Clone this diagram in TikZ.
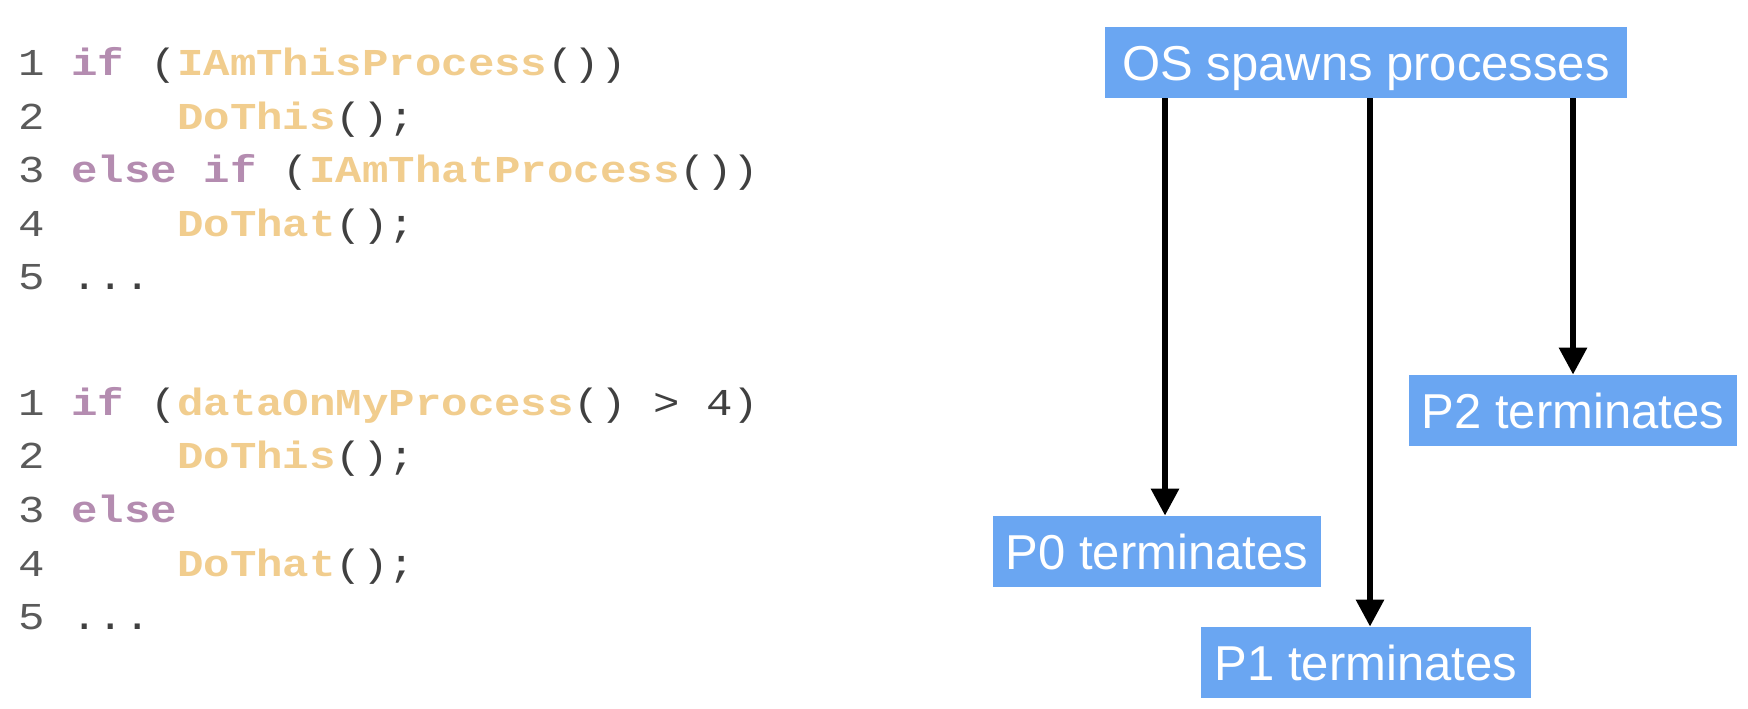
\documentclass[tikz,border=0pt]{standalone}
\usepackage{fontspec}
\setmainfont{Liberation Sans}
\newfontfamily\codefont[FakeStretch=1.16]{Liberation Mono}
\usetikzlibrary{arrows.meta}
\definecolor{kwc}{HTML}{B48CB0}
\definecolor{fnc}{HTML}{F1CD8E}
\definecolor{pnc}{HTML}{404040}
\definecolor{lnc}{HTML}{5A5A5A}
\definecolor{boxc}{HTML}{6AA6F2}
\newcommand\kw[1]{{\bfseries\color{kwc}#1}}
\newcommand\fn[1]{{\bfseries\color{fnc}#1}}
\newcommand\pn[1]{{\color{pnc}#1}}
\newcommand\lnum[1]{{\color{lnc}#1}}
\newcommand\indentfive{\ \ \ \ \ }
\begin{document}
\begin{tikzpicture}[x=0.5pt,y=-0.5pt,
  codeline/.style={anchor=base west, inner sep=0pt, font=\codefont\fontsize{19}{19}\selectfont},
  box/.style={fill=boxc, text=white, font=\fontsize{24.5}{24.5}\selectfont,
    minimum height=35.5pt, text height=17.5pt, text depth=0pt, inner sep=0pt},
  arr/.style={line width=3pt, -{Triangle[length=13.5pt,width=13.5pt]}}]
\useasboundingbox (0,0) rectangle (1748,708);

% code block 1
\node[codeline] (a1) at (18,75.5)  {\lnum{1}\ \kw{if}\ \pn{(}\fn{IAmThisProcess}\pn{())}};
\node[codeline] (a2) at (18,129)   {\lnum{2}\indentfive\fn{DoThis}\pn{();}};
\node[codeline] (a3) at (18,182.5) {\lnum{3}\ \kw{else}\ \kw{if}\ \pn{(}\fn{IAmThatProcess}\pn{())}};
\node[codeline] (a4) at (18,236)   {\lnum{4}\indentfive\fn{DoThat}\pn{();}};
\node[codeline] (a5) at (18,289.5) {\lnum{5}\ \pn{...}};

% code block 2
\node[codeline] (b1) at (18,415)   {\lnum{1}\ \kw{if}\ \pn{(}\fn{dataOnMyProcess}\pn{()\ >\ 4)}};
\node[codeline] (b2) at (18,468.7) {\lnum{2}\indentfive\fn{DoThis}\pn{();}};
\node[codeline] (b3) at (18,522.4) {\lnum{3}\ \kw{else}};
\node[codeline] (b4) at (18,576.1) {\lnum{4}\indentfive\fn{DoThat}\pn{();}};
\node[codeline] (b5) at (18,629.8) {\lnum{5}\ \pn{...}};

% process diagram
\node[box, minimum width=261pt] (os) at (1366,62.5)  {OS spawns processes};
\node[box, minimum width=164pt] (p2) at (1573,410.5) {P2 terminates};
\node[box, minimum width=164pt] (p0) at (1157,551.5) {P0 terminates};
\node[box, minimum width=165pt] (p1) at (1366,662.5) {P1 terminates};

\draw[arr] ([xshift=4pt]os.south -| p0.north) -- ([xshift=4pt]p0.north);
\draw[arr] ([xshift=2pt]os.south -| p1.north) -- ([xshift=2pt]p1.north);
\draw[arr] (os.south -| p2.north) -- (p2.north);
\end{tikzpicture}
\end{document}
